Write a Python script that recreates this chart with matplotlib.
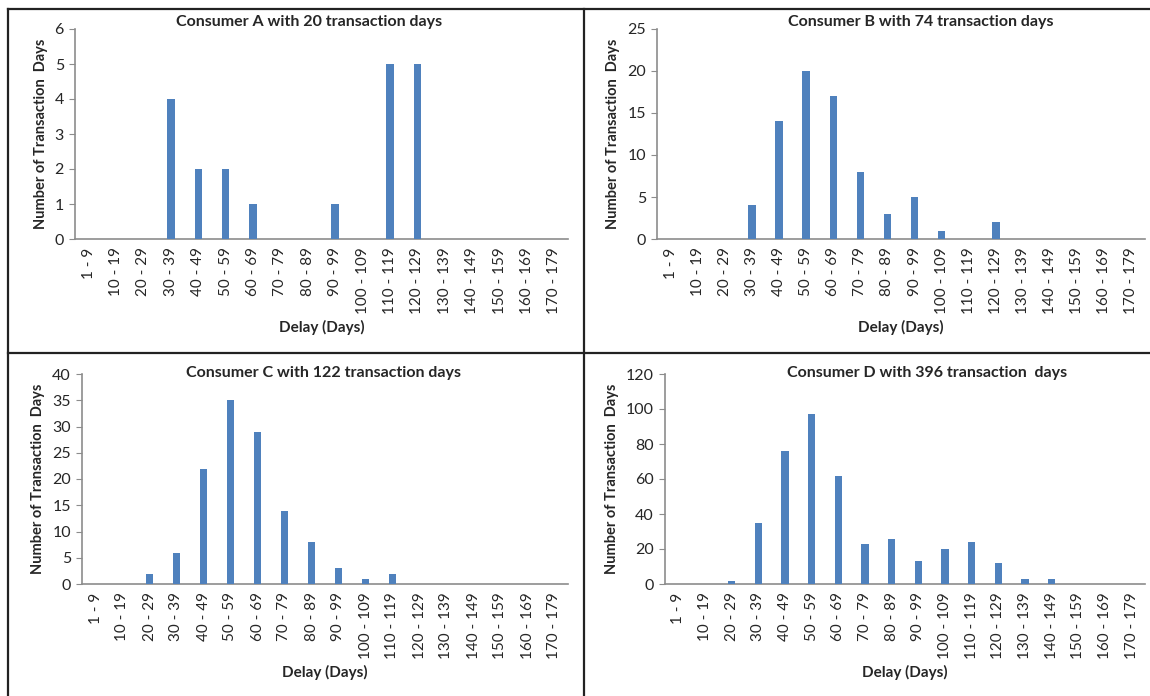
import matplotlib
matplotlib.use("Agg")
import matplotlib.pyplot as plt
from matplotlib.lines import Line2D

plt.rcParams['font.family'] = ['Lato', 'DejaVu Sans']

# delay bins shared by all four consumers
bins = ["1 - 9", "10 - 19", "20 - 29", "30 - 39", "40 - 49", "50 - 59",
        "60 - 69", "70 - 79", "80 - 89", "90 - 99", "100 - 109", "110 - 119",
        "120 - 129", "130 - 139", "140 - 149", "150 - 159", "160 - 169", "170 - 179"]

consumer_a = [0, 0, 0, 4, 2, 2, 1, 0, 0, 1, 0, 5, 5, 0, 0, 0, 0, 0]
consumer_b = [0, 0, 0, 4, 14, 20, 17, 8, 3, 5, 1, 0, 2, 0, 0, 0, 0, 0]
consumer_c = [0, 0, 2, 6, 22, 35, 29, 14, 8, 3, 1, 2, 0, 0, 0, 0, 0, 0]
consumer_d = [0, 0, 2, 35, 76, 97, 62, 23, 26, 13, 20, 24, 12, 3, 3, 0, 0, 0]

titles = ["Consumer A with 20 transaction days",
          "Consumer B with 74 transaction days",
          "Consumer C with 122 transaction days",
          "Consumer D with 396 transaction  days"]
y_max = [6, 25, 40, 120]
y_step = [1, 5, 5, 20]

W, H = 1150, 696
fig = plt.figure(figsize=(W / 100, H / 100), dpi=100)

# axes boxes in pixels: left, right, top, bottom
boxes = [(75, 568, 29, 239), (657, 1145, 29, 239),
         (82, 568, 374, 584), (665, 1145, 374, 584)]
# title centres in pixels (x, y)
title_pos = [(309, 22), (921, 22), (323, 373), (927, 373)]
series = [consumer_a, consumer_b, consumer_c, consumer_d]

BAR = '#4F81BD'
AXC = '#8C8C8C'
TXT = '#262626'

for vals, title, top, step, (l, r, t, b), (tx, ty) in zip(
        series, titles, y_max, y_step, boxes, title_pos):
    ax = fig.add_axes([l / W, 1 - b / H, (r - l) / W, (b - t) / H])
    x = range(len(bins))
    ax.bar(x, vals, width=0.27, color=BAR, zorder=3)
    ax.set_xlim(-0.5, len(bins) - 0.5)
    ax.set_ylim(0, top)
    ax.set_yticks(range(0, top + 1, step))
    ax.set_xticks(list(x))
    ax.set_xticklabels(bins, rotation=90, fontsize=11, color=TXT)
    ax.tick_params(axis='x', length=0, pad=6)
    ax.tick_params(axis='y', length=4, color=AXC, labelsize=11.5,
                   labelcolor=TXT, pad=4)
    for s in ['top', 'right']:
        ax.spines[s].set_visible(False)
    for s in ['left', 'bottom']:
        ax.spines[s].set_color(AXC)
        ax.spines[s].set_linewidth(1.2)
    fig.text(tx / W, 1 - ty / H, title, fontsize=11.5, fontweight='bold',
             color=TXT, ha='center', va='center')
    ax.set_ylabel("Number of Transaction  Days", fontsize=10.5,
                  fontweight='bold', color=TXT, labelpad=5)
    ax.set_xlabel("Delay (Days)", fontsize=11, fontweight='bold',
                  color=TXT, labelpad=4)

# panel frame lines
def px_line(x0, y0, x1, y1, lw):
    fig.add_artist(Line2D([x0 / W, x1 / W], [1 - y0 / H, 1 - y1 / H],
                          color='#222222', lw=lw, transform=fig.transFigure))

px_line(8, 9, W, 9, 1.6)
px_line(8, 9, 8, H, 1.6)
px_line(584, 9, 584, H, 1.6)
px_line(8, 353, W, 353, 1.6)

fig.savefig("out.png", dpi=100, facecolor='white')
